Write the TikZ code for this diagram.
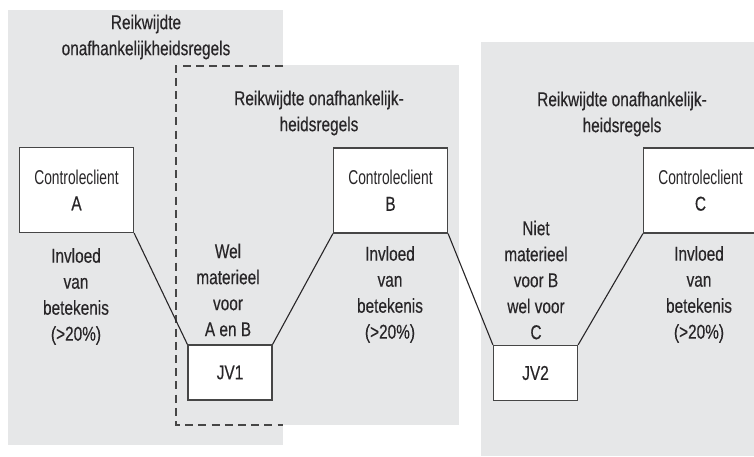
\documentclass[tikz,border=0pt]{standalone}
\usepackage{fontspec}
\setmainfont{Liberation Sans}[FakeStretch=0.77, FakeBold=0.35]
\newfontfamily\clientfont{Liberation Sans}[FakeStretch=0.69]
\usepackage{xcolor}
\usepackage{tikz}
\usetikzlibrary{positioning}
\definecolor{scopegray}{RGB}{230,231,232}
\definecolor{inkgray}{RGB}{40,38,40}
\definecolor{framegray}{RGB}{70,70,70}

\begin{document}
\begin{tikzpicture}[
    x=0.5pt, y=-0.5pt,
    every node/.style={text=inkgray, font=\fontsize{10}{13}\selectfont},
    region/.style={fill=scopegray},
    client/.style={draw=framegray, fill=white, line width=0.6pt, minimum width=57pt, minimum height=42.5pt, align=center, inner sep=0pt},
    venture/.style={draw=framegray, fill=white, line width=0.6pt, minimum width=42pt, minimum height=27.5pt, inner sep=0pt},
    note/.style={align=center, inner sep=0pt},
    link/.style={draw=inkgray, line width=0.55pt}
]
\useasboundingbox (0,0) rectangle (754,456);
\begin{scope}
\clip (0,0) rectangle (754,456);

% scopes of the independence rules
\fill[region] (8,10) rectangle (283,445);
\fill[region] (176,65) rectangle (459,425);
\fill[region] (481,42) rectangle (754,456);
\draw[framegray, line width=0.6pt, dash pattern=on 4pt off 2.6pt] (283,66) -- (176,66) -- (176,425) -- (283,425);

\node[note] (scopeA) at (146,37) {Reikwijdte\\onafhankelijkheidsregels};
\node[note] (scopeB) at (319,113) {Reikwijdte onafhankelijk-\\heidsregels};
\node[note] (scopeC) at (622,114) {Reikwijdte onafhankelijk-\\heidsregels};

% clients and joint ventures
\node[client] (cA) at (76.5,190) {{\clientfont Controleclient}\\A};
\node[client] (cB) at (390.5,190.5) {{\clientfont Controleclient}\\B};
\node[client] (cC) at (700.5,190.5) {{\clientfont Controleclient}\\C};
\node[venture] (jv1) at (230,372.5) {JV1};
\node[venture] (jv2) at (535.5,373) {JV2};

\node[note] (inflA) at (76,296.5) {Invloed\\van\\betekenis\\(>20\%)};
\node[note] (inflB) at (390,294.5) {Invloed\\van\\betekenis\\(>20\%)};
\node[note] (inflC) at (699,294.5) {Invloed\\van\\betekenis\\(>20\%)};
\node[note] (matAB) at (228,290) {Wel\\materieel\\voor\\A en B};
\node[note] (matBC) at (536,280) {Niet\\materieel\\voor B\\wel voor\\C};

\draw[link] (cA.south east) -- (jv1.north west);
\draw[link] (jv1.north east) -- (cB.south west);
\draw[link] (cB.south east) -- (jv2.north west);
\draw[link] (jv2.north east) -- (cC.south west);
\end{scope}
\end{tikzpicture}
\end{document}
